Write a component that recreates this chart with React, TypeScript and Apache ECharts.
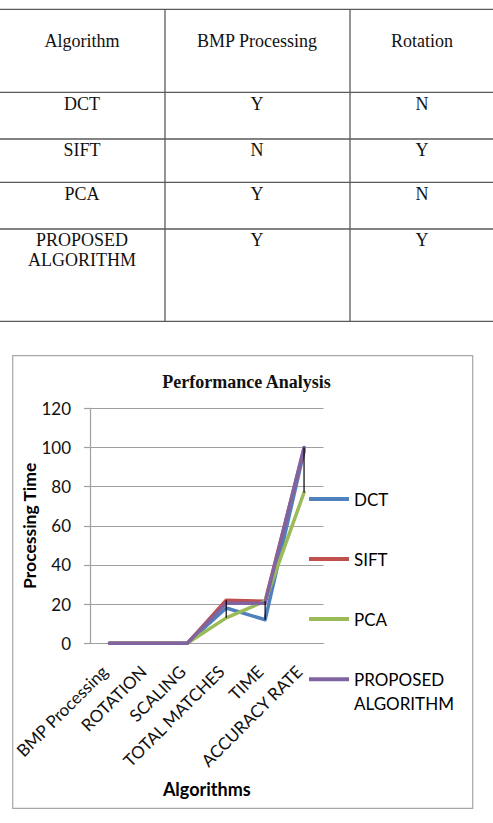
import React, { useEffect, useRef } from "react";
import * as echarts from "echarts";

// ---------- data ----------
const tableHeader = ["Algorithm", "BMP Processing", "Rotation"];
const tableAlgorithms = ["DCT", "SIFT", "PCA", "PROPOSED\nALGORITHM"];
const tableBmp = ["Y", "N", "Y", "Y"];
const tableRotation = ["N", "Y", "N", "Y"];

const chartTitle = "Performance Analysis";
const xAxisName = "Algorithms";
const yAxisName = "Processing Time";
const categories = ["BMP Processing", "ROTATION", "SCALING", "TOTAL MATCHES", "TIME", "ACCURACY RATE"];
const seriesNames = ["DCT", "SIFT", "PCA", "PROPOSED ALGORITHM"];
const dctValues = [0, 0, 0, 18, 12, 98];
const siftValues = [0, 0, 0, 22, 21.5, 99];
const pcaValues = [0, 0, 0, 13, 21.5, 77];
const proposedValues = [0, 0, 0, 20.5, 20.5, 100];
const yMin = 0;
const yMax = 120;
const yInterval = 20;

// ---------- layout / style ----------
const W = 493;
const H = 823;
const serif = "'Liberation Serif', 'Times New Roman', serif";
const sans = "Lato, 'Open Sans', sans-serif";
const colors = ["#4F81BD", "#C0504D", "#9BBB59", "#8064A2"];
const tableLineYs = [9.3, 92.3, 139, 182.3, 229, 321.3];
const tableColXs = [165, 350];
const tableTextXs = [82, 257, 422];
const tableHeaderY = 40.5;
const tableRowYs = [103.7, 149.7, 193.8, 240.3];

export default function App() {
  const ref = useRef<HTMLDivElement>(null);

  useEffect(() => {
    if (!ref.current) return;
    const chart = echarts.init(ref.current, null, { renderer: "svg" });

    const allSeries = [dctValues, siftValues, pcaValues, proposedValues];
    const hiLo = categories
      .map((_, i) => {
        const vals = allSeries.map((s) => s[i]);
        return [i, Math.max(...vals), Math.min(...vals)];
      })
      .filter((d) => d[1] !== d[2]);

    const graphics: any[] = [];
    tableLineYs.forEach((y) => {
      graphics.push({
        type: "line",
        shape: { x1: 0, y1: y, x2: W, y2: y },
        style: { stroke: "#5a5a5a", lineWidth: 1.3 },
        silent: true,
      });
    });
    tableColXs.forEach((x) => {
      graphics.push({
        type: "line",
        shape: { x1: x, y1: tableLineYs[0], x2: x, y2: tableLineYs[tableLineYs.length - 1] },
        style: { stroke: "#5a5a5a", lineWidth: 1.3 },
        silent: true,
      });
    });
    const cellText = (text: string, x: number, y: number) => ({
      type: "text",
      x,
      y: y - 10,
      style: {
        text,
        font: `18px ${serif}`,
        fill: "#111",
        align: "center",
        verticalAlign: "top",
        lineHeight: 20,
      },
      silent: true,
    });
    tableHeader.forEach((t, c) => graphics.push(cellText(t, tableTextXs[c], tableHeaderY)));
    tableAlgorithms.forEach((t, r) => graphics.push(cellText(t, tableTextXs[0], tableRowYs[r])));
    tableBmp.forEach((t, r) => graphics.push(cellText(t, tableTextXs[1], tableRowYs[r])));
    tableRotation.forEach((t, r) => graphics.push(cellText(t, tableTextXs[2], tableRowYs[r])));
    graphics.push({
      type: "rect",
      shape: { x: 12.7, y: 355.7, width: 460, height: 452.6 },
      style: { stroke: "#a6a6a6", lineWidth: 1.2, fill: "none" },
      silent: true,
    });

    const lineSeries = allSeries.map((vals, i) => ({
      name: seriesNames[i],
      type: "line",
      data: vals,
      symbol: "none",
      lineStyle: { color: colors[i], width: 3.5, cap: "round", join: "round" },
      itemStyle: { color: colors[i] },
      z: 3 + i,
    }));

    const legendBase = {
      orient: "vertical",
      left: 309,
      padding: 0,
      itemWidth: 40,
      itemHeight: 4,
      icon: "rect",
    };

    chart.setOption({
      animation: false,
      backgroundColor: "#fff",
      color: colors,
      title: {
        text: chartTitle,
        left: "center",
        top: 372.5,
        padding: [0, 8, 0, 0],
        textStyle: { fontFamily: serif, fontWeight: "bold", fontSize: 18, color: "#111" },
      },
      legend: [
        {
          ...legendBase,
          data: seriesNames.slice(0, 3),
          top: 489,
          itemGap: 40,
          textStyle: { fontFamily: sans, fontSize: 17, color: "#000", lineHeight: 20 },
        },
        {
          ...legendBase,
          data: [seriesNames[3]],
          top: 643.3,
          formatter: (n: string) => "\n" + n.replace(" ", "\n"),
          textStyle: { fontFamily: sans, fontSize: 17, color: "#000", lineHeight: 24 },
        },
      ],
      grid: {
        left: 90,
        right: W - 323.5,
        top: 408.3,
        bottom: H - 643.3,
        containLabel: false,
        outerBoundsMode: "none",
      },
      xAxis: {
        type: "category",
        data: categories,
        boundaryGap: true,
        name: xAxisName,
        nameLocation: "middle",
        nameGap: 137,
        nameMoveOverlap: false,
        nameTextStyle: { fontFamily: sans, fontWeight: "bold", fontSize: 18, color: "#000" },
        axisLine: { show: true, lineStyle: { color: "#a0a0a0", width: 1.2 } },
        axisTick: { show: false },
        axisLabel: {
          interval: 0,
          rotate: 45,
          margin: 30,
          lineHeight: 14,
          formatter: (v: string) => v + "\n",
          fontFamily: sans,
          fontSize: 17,
          color: "#111",
          hideOverlap: false,
        },
        splitLine: { show: false },
      },
      yAxis: {
        type: "value",
        min: yMin,
        max: yMax,
        interval: yInterval,
        name: yAxisName,
        nameLocation: "middle",
        nameGap: 52,
        nameMoveOverlap: false,
        nameTextStyle: { fontFamily: sans, fontWeight: "bold", fontSize: 17.5, color: "#000" },
        axisLine: { show: true, lineStyle: { color: "#a0a0a0", width: 1.2 } },
        axisTick: { show: true, inside: false, length: 6, lineStyle: { color: "#a0a0a0", width: 1.2 } },
        axisLabel: { margin: 19, fontFamily: sans, fontSize: 17, color: "#111" },
        splitLine: { show: true, lineStyle: { color: "#a0a0a0", width: 1.2 } },
      },
      graphic: graphics,
      series: [
        ...lineSeries,
        {
          type: "custom",
          name: "high-low",
          silent: true,
          z: 10,
          data: hiLo,
          encode: { x: 0, y: [1, 2] },
          renderItem: (params: any, api: any) => {
            const p1 = api.coord([api.value(0), api.value(1)]);
            const p2 = api.coord([api.value(0), api.value(2)]);
            return {
              type: "line",
              shape: { x1: p1[0], y1: p1[1], x2: p2[0], y2: p2[1] },
              style: { stroke: "#000", lineWidth: 1.2 },
            };
          },
        },
      ],
    });

    return () => chart.dispose();
  }, []);

  return (
    <div
      ref={ref}
      style={{ position: "fixed", left: 0, top: 0, width: W, height: H, background: "#fff" }}
    />
  );
}
